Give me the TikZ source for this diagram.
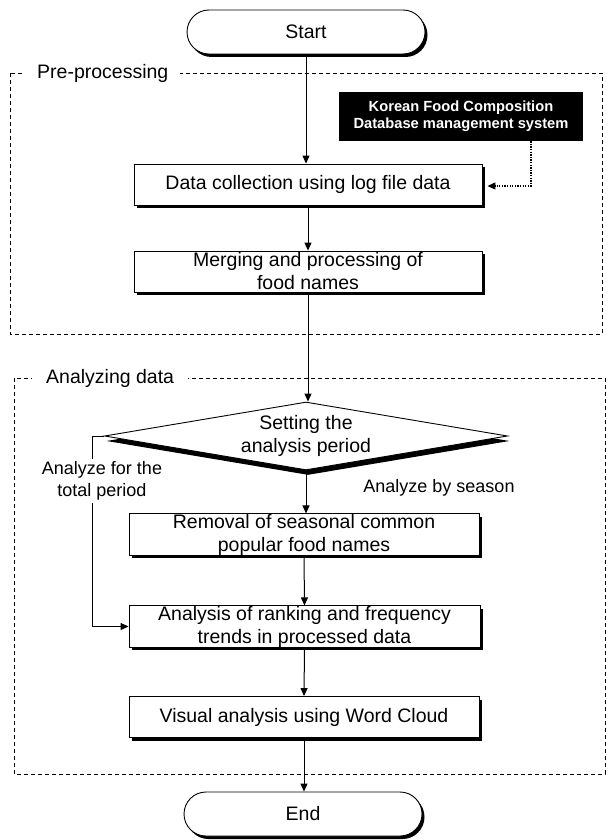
\documentclass[tikz,border=0pt]{standalone}
\usepackage{fontspec}
\setmainfont{Liberation Sans}
\usetikzlibrary{shapes.geometric,shapes.misc,arrows.meta,shadows}
\begin{document}
\begin{tikzpicture}[x=1pt,y=-1pt,
  font=\fontsize{19.5}{23}\selectfont,
  shad/.style={drop shadow={shadow xshift=3pt,shadow yshift=-3pt,fill=black,opacity=1}},
  procbox/.style={draw=black,line width=0.9pt,fill=white,minimum width=#1,minimum height=41pt,inner sep=0pt,align=center,shad},
  term/.style={rounded rectangle,draw=black,line width=0.9pt,fill=white,minimum width=238pt,minimum height=44pt,inner sep=0pt,
     drop shadow={shadow xshift=2.5pt,shadow yshift=-3pt,fill=black,opacity=1}},
  frame/.style={draw=black,line width=0.9pt,dash pattern=on 4pt off 3pt},
  framelabel/.style={fill=white,anchor=west,inner ysep=2pt},
  arr/.style={draw=black,line width=1pt,-{Triangle[length=8pt,width=7pt]}},
  dotarr/.style={draw=black,line width=1.3pt,dash pattern=on 1.3pt off 1.3pt,-{Triangle[length=8pt,width=7pt]}},
  sidelabel/.style={font=\fontsize{18}{22}\selectfont,align=center}
]
\useasboundingbox (0,0) rectangle (608,840);
\fill[white] (0,0) rectangle (608,840);

% frames
\draw[frame] (10,73) rectangle (602,334);
\node[framelabel,inner xsep=12pt] (prelabel) at (25,73) {Pre-processing};
\draw[frame] (14,378) rectangle (605,774);
\node[framelabel,inner xsep=14pt] (analabel) at (32,378) {Analyzing data};

% nodes
\node[term] (start) at (306,32) {Start};
\node[fill=black,text=white,font=\bfseries\fontsize{14.7}{17}\selectfont,minimum width=244pt,minimum height=49pt,inner sep=0pt,align=center] (kfc) at (461,116.5) {Korean Food Composition\\Database management system};
\node[procbox=348pt] (data) at (308,184.5) {Data collection using log file data};
\node[procbox=348pt] (merge) at (308,271.5) {Merging and processing of\\food names};
\node[diamond,aspect=6,draw=black,line width=0.9pt,fill=white,minimum width=403pt,minimum height=68pt,inner sep=0pt,align=center,
  drop shadow={shadow xshift=2pt,shadow yshift=-5pt,fill=black,opacity=1}] (dia) at (306,436) {Setting the\\analysis period};
\node[procbox=350pt] (rem) at (304,534.5) {Removal of seasonal common\\popular food names};
\node[procbox=351pt] (ana) at (304.5,626.5) {Analysis of ranking and frequency\\trends in processed data};
\node[procbox=350pt] (vis) at (304,717) {Visual analysis using Word Cloud};
\node[term] (end) at (303,814) {End};

% connectors
\draw[arr] (start.south) -- (start.south |- data.north);
\draw[arr] (data.south) -- (merge.north);
\draw[arr] (merge.south) -- (merge.south |- dia.north);
\draw[arr] (dia.south) -- (dia.south |- rem.north);
\draw[arr] (rem.south) -- (ana.north);
\draw[arr] (ana.south) -- (vis.north);
\draw[arr] (vis.south) -- (vis.south |- end.north);
\draw[dotarr] ([xshift=70pt]kfc.south) |- ([xshift=5pt,yshift=-1.5pt]data.east);
\draw[arr] (dia.west) -- ++(-12,0) |- (ana.west);

% labels
\node[sidelabel,fill=white,inner sep=3pt] (ltot) at (102,481) {Analyze for the\\total period};
\node[sidelabel] (lsea) at (439,488) {Analyze by season};
\end{tikzpicture}
\end{document}
